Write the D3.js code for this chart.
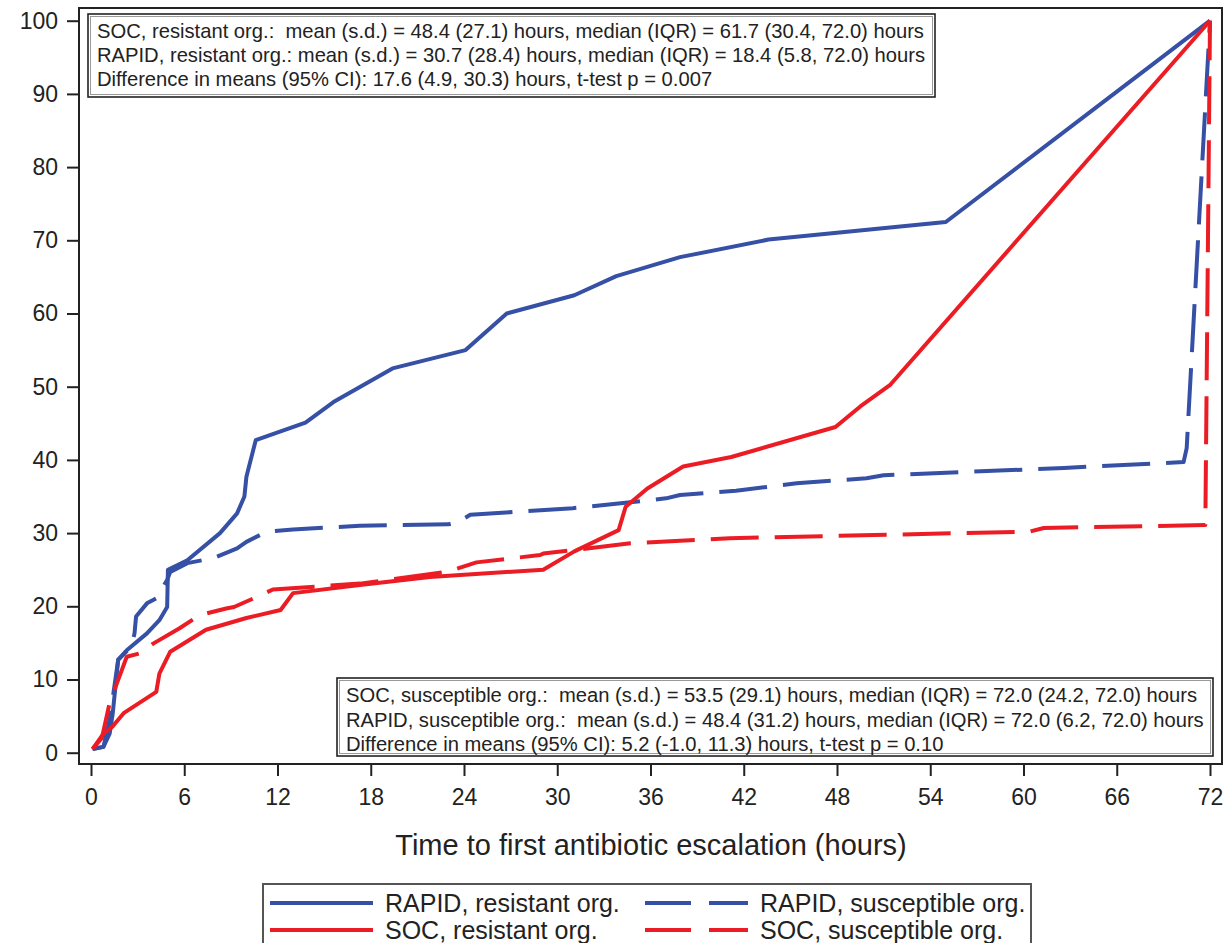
<!DOCTYPE html>
<html>
<head>
<meta charset="utf-8">
<script src="https://cdn.jsdelivr.net/npm/d3@7"></script>
<style>
  html, body { margin: 0; padding: 0; background: #fff; }
  svg { display: block; font-family: "Liberation Sans", Arial, sans-serif; }
  .stat { white-space: pre; }
</style>
</head>
<body>
<svg id="chart" width="1228" height="943"></svg>
<script>
// Cumulative % of patients with first antibiotic escalation, by hour (points as [hours, percent])
const rapidResistant = [
  [0.1, 0.5], [0.8, 0.8], [1.2, 2.6], [1.4, 5.4], [1.75, 12.7], [2.3, 14.0], [3.6, 16.3],
  [4.4, 18.1], [4.9, 19.9], [4.95, 25.0], [6.2, 26.3], [8.3, 30.0], [9.4, 32.7], [9.87, 35.0],
  [10.0, 37.7], [10.6, 42.7], [13.8, 45.1], [15.6, 47.9], [19.4, 52.5], [24.1, 55.0],
  [26.75, 60.0], [31.1, 62.5], [33.8, 65.1], [37.9, 67.7], [43.6, 70.1], [55.0, 72.5], [72, 100]
];
const rapidSusceptible = [
  [0.1, 0.5], [0.8, 0.8], [1.2, 4.5], [1.75, 12.7], [2.6, 14.5], [2.8, 16.3], [2.9, 18.6],
  [3.6, 20.4], [4.2, 21.1], [4.9, 23.6], [5.1, 24.7], [6.2, 25.9], [7.9, 26.6], [9.4, 27.9],
  [10.0, 28.8], [11.3, 30.2], [13.0, 30.5], [17.3, 31.0], [23.0, 31.2], [23.7, 31.6],
  [24.4, 32.5], [31.0, 33.4], [34.7, 34.2], [37.0, 34.75], [37.9, 35.2], [41.5, 35.8],
  [45.4, 36.8], [49.9, 37.5], [51.0, 37.9], [62.6, 38.9], [70.3, 39.7], [70.5, 41.6], [72, 100]
];
const socResistant = [
  [0.1, 0.5], [0.8, 2.6], [1.4, 3.6], [2.1, 5.4], [4.2, 8.3], [4.4, 10.8], [5.1, 13.8],
  [7.4, 16.8], [10.0, 18.4], [12.2, 19.5], [13.0, 21.8], [17.3, 22.9], [21.8, 24.0],
  [29.1, 25.0], [31.1, 27.5], [33.95, 30.4], [34.4, 33.6], [34.9, 34.5], [35.8, 36.1],
  [38.1, 39.1], [41.2, 40.4], [47.9, 44.5], [49.5, 47.3], [51.4, 50.2], [72, 100]
];
const socSusceptible = [
  [0.1, 0.5], [0.7, 2.0], [1.2, 6.8], [2.3, 13.1], [3.2, 13.6], [4.0, 14.9], [5.7, 17.0],
  [7.0, 18.8], [8.7, 19.7], [9.2, 19.9], [10.9, 21.5], [11.7, 22.3], [17.3, 23.1],
  [22.9, 24.7], [24.8, 26.0], [28.9, 27.0], [29.1, 27.2], [31.1, 27.7], [34.7, 28.6],
  [41.1, 29.3], [60.4, 30.2], [61.3, 30.7], [71.7, 31.1], [72, 100]
];

const xTicks = [0, 6, 12, 18, 24, 30, 36, 42, 48, 54, 60, 66, 72];
const yTicks = [0, 10, 20, 30, 40, 50, 60, 70, 80, 90, 100];
const xTitle = "Time to first antibiotic escalation (hours)";

const topStats = [
  "SOC, resistant org.:  mean (s.d.) = 48.4 (27.1) hours, median (IQR) = 61.7 (30.4, 72.0) hours",
  "RAPID, resistant org.: mean (s.d.) = 30.7 (28.4) hours, median (IQR) = 18.4 (5.8, 72.0) hours",
  "Difference in means (95% CI): 17.6 (4.9, 30.3) hours, t-test p = 0.007"
];
const bottomStats = [
  "SOC, susceptible org.:  mean (s.d.) = 53.5 (29.1) hours, median (IQR) = 72.0 (24.2, 72.0) hours",
  "RAPID, susceptible org.:  mean (s.d.) = 48.4 (31.2) hours, median (IQR) = 72.0 (6.2, 72.0) hours",
  "Difference in means (95% CI): 5.2 (-1.0, 11.3) hours, t-test p = 0.10"
];

const BLUE = "#3550a5", RED = "#ec1c24", INK = "#222";
const DASH = "48,16";

const series = [
  { name: "RAPID, resistant org.", data: rapidResistant, color: BLUE, dash: null },
  { name: "RAPID, susceptible org.", data: rapidSusceptible, color: BLUE, dash: DASH },
  { name: "SOC, resistant org.", data: socResistant, color: RED, dash: null },
  { name: "SOC, susceptible org.", data: socSusceptible, color: RED, dash: DASH }
];

const svg = d3.select("#chart");
const frame = { left: 79, top: 8, right: 1222, bottom: 764 };

const x = d3.scaleLinear().domain([0, 72]).range([91, 1210]);
const y = d3.scaleLinear().domain([0, 100]).range([752.7, 20.7]);

// plot frame
svg.append("rect")
  .attr("x", frame.left).attr("y", frame.top)
  .attr("width", frame.right - frame.left).attr("height", frame.bottom - frame.top)
  .attr("fill", "none").attr("stroke", INK).attr("stroke-width", 2);

// axes
const xAxis = svg.append("g")
  .attr("transform", `translate(0,${frame.bottom})`)
  .call(d3.axisBottom(x).tickValues(xTicks).tickSize(12).tickPadding(13).tickFormat(d3.format("d")));
const yAxis = svg.append("g")
  .attr("transform", `translate(${frame.left},0)`)
  .call(d3.axisLeft(y).tickValues(yTicks).tickSize(12).tickPadding(9).tickFormat(d3.format("d")));

[xAxis, yAxis].forEach(g => {
  g.select(".domain").remove();
  g.selectAll(".tick line").attr("stroke", INK).attr("stroke-width", 2);
  g.selectAll(".tick text").attr("fill", INK).style("font-size", "23px")
    .style("font-family", "'Liberation Sans', Arial, sans-serif");
});

svg.append("text")
  .attr("x", 651).attr("y", 855)
  .attr("text-anchor", "middle").attr("fill", INK)
  .style("font-size", "29px")
  .text(xTitle);

// curves
const line = d3.line().x(d => x(d[0])).y(d => y(d[1]));
const plot = svg.append("g");
series.forEach(s => {
  plot.append("path")
    .datum(s.data)
    .attr("d", line)
    .attr("fill", "none")
    .attr("stroke", s.color)
    .attr("stroke-width", 4)
    .attr("stroke-linejoin", "round")
    .attr("stroke-dasharray", s.dash);
});

// statistics inset boxes; the font is sized so the longest line spans textWidth
function statBox(x0, y0, w, h, lines, textWidth, rowGap) {
  const g = svg.append("g");
  g.append("rect").attr("x", x0).attr("y", y0).attr("width", w).attr("height", h)
    .attr("fill", "#fff").attr("stroke", INK).attr("stroke-width", 1.6);
  g.append("rect").attr("x", x0 + 2.5).attr("y", y0 + 2.5).attr("width", w - 5).attr("height", h - 5)
    .attr("fill", "none").attr("stroke", "#9a9a9a").attr("stroke-width", 1);
  const texts = lines.map((t, i) =>
    g.append("text").attr("class", "stat")
      .attr("x", x0 + 9).attr("y", y0 + 24 + i * rowGap)
      .attr("fill", INK).style("font-size", "20px")
      .text(t));
  const widest = d3.max(texts, t => t.node().getComputedTextLength());
  const size = 20 * textWidth / widest;
  texts.forEach(t => t.style("font-size", size.toFixed(2) + "px"));
}
statBox(88, 14, 847, 83, topStats, 828, 24);
statBox(337, 678, 876, 78, bottomStats, 858, 24.5);

// legend
const legend = svg.append("g");
legend.append("rect")
  .attr("x", 263).attr("y", 884).attr("width", 768).attr("height", 80)
  .attr("fill", "#fff").attr("stroke", "#555").attr("stroke-width", 2);
const legendCols = [270, 645];
const legendRows = [903, 930];
series.forEach((s, i) => {
  const cx = legendCols[i % 2];
  const cy = legendRows[Math.floor(i / 2)];
  legend.append("line")
    .attr("x1", cx).attr("x2", cx + 103).attr("y1", cy).attr("y2", cy)
    .attr("stroke", s.color).attr("stroke-width", 4)
    .attr("stroke-dasharray", s.dash ? "46,18" : null);
  legend.append("text")
    .attr("x", cx + 115).attr("y", cy + 9)
    .attr("fill", INK).style("font-size", "25px")
    .text(s.name);
});
</script>
</body>
</html>
